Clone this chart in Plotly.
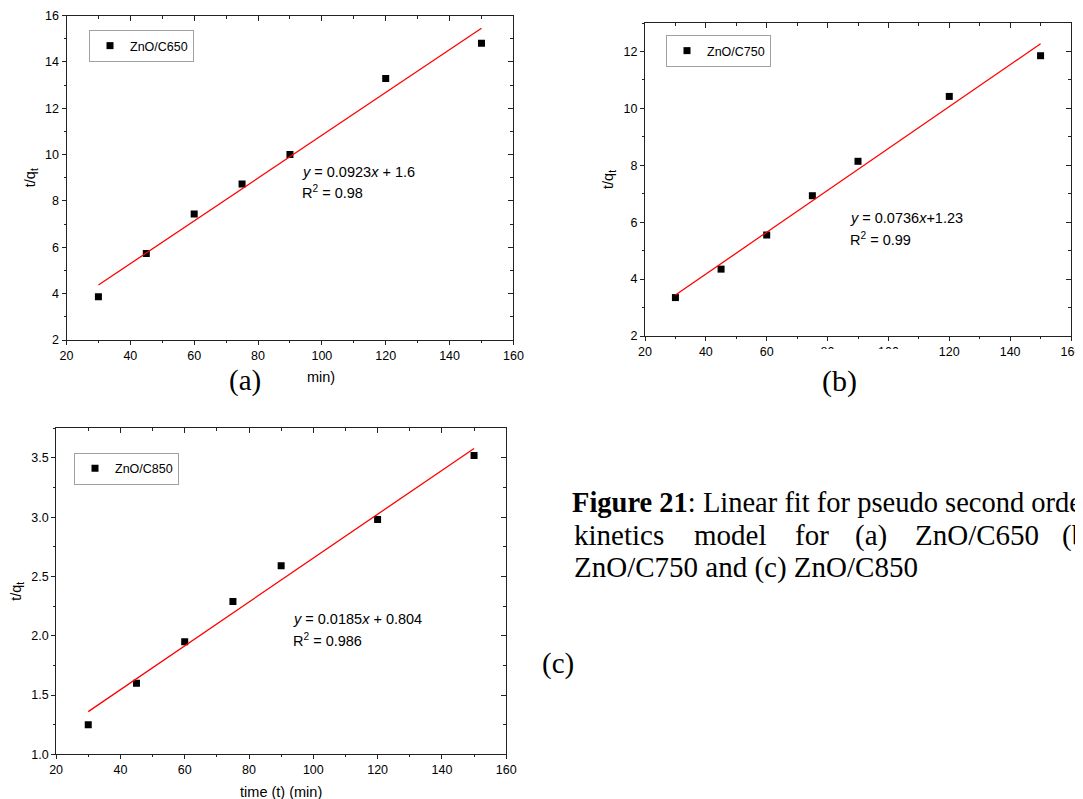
import plotly.graph_objects as go

# ---------------- data ----------------
time_min = [30, 45, 60, 75, 90, 120, 150]
tq_c650 = [3.87, 5.73, 7.44, 8.73, 10.0, 13.28, 14.8]
tq_c750 = [3.35, 4.35, 5.55, 6.93, 8.14, 10.42, 11.85]
tq_c850 = [1.25, 1.60, 1.95, 2.29, 2.59, 2.98, 3.52]

fit_x = [30, 150]
fit_c650 = [4.37, 15.45]
fit_c750 = [3.44, 12.27]
fit_c850 = [1.36, 3.58]

series_names = ["ZnO/C650", "ZnO/C750", "ZnO/C850"]
eq_texts = ["<i>y</i> = 0.0923<i>x</i> + 1.6",
            "<i>y</i> = 0.0736<i>x</i>+1.23",
            "<i>y</i> = 0.0185<i>x</i> + 0.804"]
r2_texts = ["R<sup>2</sup> = 0.98", "R<sup>2</sup> = 0.99", "R<sup>2</sup> = 0.986"]
panel_labels = ["(a)", "(b)", "(c)"]
x_title = "time (t) (min)"
x_title_partial = "min)"
y_title = "t/q<sub>t</sub>"
caption_line1 = "<b>Figure 21</b>: Linear fit for pseudo second order"
caption_words_line2 = ["kinetics", "model", "for", "(a)", "ZnO/C650", "(b)"]
caption_line3 = "ZnO/C750 and (c) ZnO/C850"

# ---------------- layout helpers ----------------
W, H = 1083, 799
OFF = 8  # the page body margin shifts the figure by this many pixels


def px(x):
    return (x - OFF) / W


def py(y):
    return 1 - (y - OFF) / H


boxes = {  # left, top, right, bottom (page pixels)
    "a": (66.5, 15.5, 513.4, 340),
    "b": (645, 23, 1071, 336),
    "c": (56.1, 428.3, 506.2, 754.3),
}

SANS = "Liberation Sans, Arial, sans-serif"
SERIF = "Liberation Serif, Times New Roman, serif"
AX = "#222222"
TICK_FS = 12.5
TXT_FS = 14.5

fig = go.Figure()

panels = [
    ("a", tq_c650, fit_c650, [2, 16], 2, 1, None, "legend"),
    ("b", tq_c750, fit_c750, [2, 13], 2, 1, None, "legend2"),
    ("c", tq_c850, fit_c850, [1, 3.75], 0.5, 0.25, ".1f", "legend3"),
]

layout_axes = {}
for i, (key, ydata, yfit, yrange, ydt, yminor, yfmt, leg) in enumerate(panels):
    n1 = 2 * i + 1
    n2 = 2 * i + 2
    xa1 = "x" if n1 == 1 else f"x{n1}"
    ya1 = "y" if n1 == 1 else f"y{n1}"
    xa2 = f"x{n2}"
    ya2 = f"y{n2}"
    l, t, r, b = boxes[key]

    fig.add_trace(go.Scatter(
        x=time_min, y=ydata, mode="markers", name=series_names[i],
        marker=dict(symbol="square", size=7, color="black"),
        xaxis=xa1, yaxis=ya1, legend=leg, showlegend=True))
    fig.add_trace(go.Scatter(
        x=fit_x, y=yfit, mode="lines", line=dict(color="#ff0000", width=1.3),
        xaxis=xa1, yaxis=ya1, showlegend=False, hoverinfo="skip"))
    fig.add_trace(go.Scatter(
        x=[None], y=[None], mode="markers", xaxis=xa2, yaxis=ya2,
        showlegend=False, hoverinfo="skip"))

    xname1 = "xaxis" if n1 == 1 else f"xaxis{n1}"
    yname1 = "yaxis" if n1 == 1 else f"yaxis{n1}"
    xt = dict(text=x_title, font=dict(family=SANS, size=TXT_FS, color="black"),
              standoff=10) if key == "c" else None
    layout_axes[xname1] = dict(
        domain=[px(l), px(r)], anchor=ya1, range=[20, 160], dtick=20, tick0=0,
        automargin=False,
        showgrid=False, zeroline=False, showline=True, linecolor=AX, linewidth=1,
        ticks="outside", ticklen=4, tickcolor=AX, tickwidth=1,
        minor=dict(ticks="outside", ticklen=2, dtick=10, tickcolor=AX, showgrid=False),
        tickfont=dict(family=SANS, size=TICK_FS, color="black"),
        title=xt)
    layout_axes[yname1] = dict(
        domain=[py(b), py(t)], anchor=xa1, range=yrange, dtick=ydt, tick0=0,
        tickformat=yfmt, automargin=False,
        showgrid=False, zeroline=False, showline=True, linecolor=AX, linewidth=1,
        ticks="outside", ticklen=4, tickcolor=AX, tickwidth=1,
        minor=dict(ticks="outside", ticklen=2, dtick=yminor, tickcolor=AX, showgrid=False),
        tickfont=dict(family=SANS, size=TICK_FS, color="black"),
        title=dict(text=y_title, font=dict(family=SANS, size=TXT_FS, color="black"),
                   standoff=6))
    layout_axes[f"xaxis{n2}"] = dict(
        overlaying=xa1, side="top", anchor=ya1, range=[20, 160], dtick=20, tick0=0,
        automargin=False,
        showgrid=False, zeroline=False, showline=True, linecolor=AX, linewidth=1,
        ticks="inside", ticklen=5, tickcolor=AX, showticklabels=False,
        minor=dict(ticks="inside", ticklen=3, dtick=10, tickcolor=AX, showgrid=False))
    layout_axes[f"yaxis{n2}"] = dict(
        overlaying=ya1, side="right", anchor=xa1, range=yrange, dtick=ydt, tick0=0,
        automargin=False,
        showgrid=False, zeroline=False, showline=True, linecolor=AX, linewidth=1,
        ticks="inside", ticklen=5, tickcolor=AX, showticklabels=False,
        minor=dict(ticks="inside", ticklen=3, dtick=yminor, tickcolor=AX, showgrid=False))

legend_pos = {"legend": (89, 30), "legend2": (666, 35), "legend3": (74, 452.5)}
legends = {}
for name, (lx, ly) in legend_pos.items():
    legends[name] = dict(
        x=px(lx), y=py(ly), xanchor="left", yanchor="top",
        bgcolor="white", bordercolor="#a0a0a0", borderwidth=1,
        font=dict(family=SANS, size=12.5, color="black"),
        itemwidth=30, tracegroupgap=0)

annotations = []


def note(x, y, text, font, size, xanchor="left"):
    annotations.append(dict(x=px(x), y=py(y), xref="paper", yref="paper",
                            text=text, showarrow=False, xanchor=xanchor,
                            yanchor="middle",
                            font=dict(family=font, size=size, color="black")))


eq_pos = [(299.5, 172, 192), (848, 218, 239), (291, 619, 640)]
for i, (ax_, ey, ry) in enumerate(eq_pos):
    note(ax_, ey, eq_texts[i], SANS, TXT_FS)
    note(ax_, ry, r2_texts[i], SANS, TXT_FS)

# visible remainder of panel (a)'s x-axis title (the rest is hidden in the source)
note(305, 377, x_title_partial, SANS, TXT_FS)

label_pos = [(244.5, 380, 29), (839, 381, 30), (557.7, 663, 29)]
for i, (lx, ly, fs) in enumerate(label_pos):
    note(lx, ly, panel_labels[i], SERIF, fs, xanchor="center")

CAP = 29
note(570, 502, caption_line1, SERIF, 28.5)
line2_x = [572, 692, 793, 853, 913, 1060]
for wx, w in zip(line2_x, caption_words_line2):
    note(wx, 535, w, SERIF, CAP)
note(572, 567, caption_line3, SERIF, CAP)

# white patch that hides the lower half of two tick labels in panel (b)
shapes = [
    dict(type="rect", xref="paper", yref="paper", layer="above",
         x0=px(800), x1=px(915), y0=py(410), y1=py(349),
         fillcolor="white", line=dict(width=0)),
]

fig.update_layout(
    width=W, height=H, autosize=False,
    margin=dict(l=0, r=0, t=0, b=0, autoexpand=False),
    paper_bgcolor="white", plot_bgcolor="white",
    annotations=annotations, shapes=shapes,
    **legends, **layout_axes)

fig.write_html("out.html")
